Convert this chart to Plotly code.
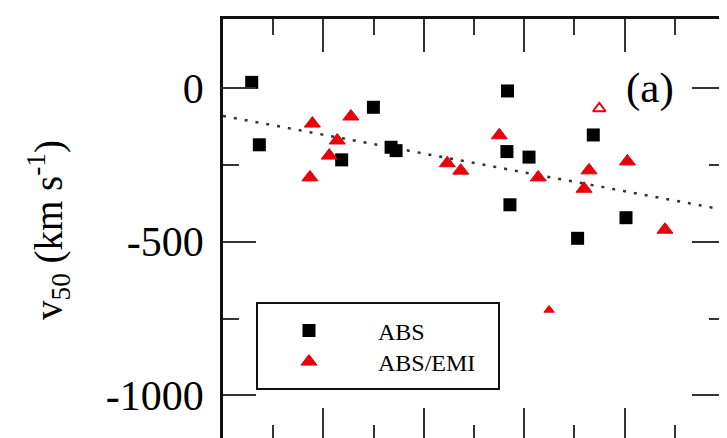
import plotly.graph_objects as go

# ABS (black squares)
abs_x = [9.143, 9.181, 9.749, 9.591, 9.837, 9.862, 10.417, 10.414, 10.429, 10.524, 10.844, 10.766, 11.007]
abs_y = [18, -185, -63, -234, -193, -204, -10, -207, -380, -225, -153, -489, -422]

# ABS/EMI (red triangles)
emi_x = [9.445, 9.637, 9.569, 9.529, 9.433, 10.117, 10.184, 10.376, 10.570, 10.823, 10.798, 11.014, 11.201]
emi_y = [-116, -93, -171, -220, -291, -245, -269, -154, -291, -268, -328, -239, -461]
emi_small_x = [10.624]
emi_small_y = [-722]
emi_open_x = [10.874]
emi_open_y = [-67]

# dotted fit line
fit_x = [9.0, 11.5]
fit_y = [-91, -397]

y_tickvals = [0, -500, -1000]
y_ticktext = ["0", "-500", "-1000"]

SERIF = "Liberation Serif, Times New Roman, serif"
OFF = 8  # default page body margin
W, H = 727 - OFF, 441 - OFF
L, R, T, B = 223 - OFF, 2, 11, 0
RED = "#e8000b"

fig = go.Figure()
fig.add_trace(go.Scatter(x=fit_x, y=fit_y, mode="lines", showlegend=False,
                         line=dict(color="#333333", width=2.5, dash="3px,8px"),
                         hoverinfo="skip"))
fig.add_trace(go.Scatter(x=abs_x, y=abs_y, mode="markers", name="ABS", legend="legend",
                         marker=dict(symbol="square", size=13, color="black")))
fig.add_trace(go.Scatter(x=emi_x, y=emi_y, mode="markers", name="ABS/EMI", legend="legend2",
                         marker=dict(symbol="triangle-up", size=14, color=RED,
                                     line=dict(color=RED, width=1))))
fig.add_trace(go.Scatter(x=emi_small_x, y=emi_small_y, mode="markers", showlegend=False,
                         marker=dict(symbol="triangle-up", size=9, color=RED,
                                     line=dict(color=RED, width=1))))
fig.add_trace(go.Scatter(x=emi_open_x, y=emi_open_y, mode="markers", showlegend=False,
                         marker=dict(symbol="triangle-up-open", size=11, color=RED,
                                     line=dict(color=RED, width=2))))

pw = W - L - R
ph = H - T - B
def px2paper_x(px):  # px in page coordinates
    return (px - OFF - L) / pw
def px2paper_y(py):
    return (H - B - (py - OFF)) / ph

leg_common = dict(xanchor="left", yanchor="middle", bgcolor="rgba(0,0,0,0)", borderwidth=0,
                  font=dict(family=SERIF, size=24, color="black"), itemwidth=128)

fig.update_layout(
    width=W, height=H,
    margin=dict(l=L, r=R, t=T, b=B),
    paper_bgcolor="white", plot_bgcolor="white",
    font=dict(family=SERIF, color="black"),
    showlegend=True,
    legend=dict(x=px2paper_x(240), y=px2paper_y(331), **leg_common),
    legend2=dict(x=px2paper_x(240), y=px2paper_y(362), **leg_common),
    xaxis=dict(range=[9.0, 11.5], showgrid=False, zeroline=False,
               showline=True, linewidth=2.5, linecolor="#111111", mirror="ticks",
               ticks="inside", ticklen=33, tickwidth=2, tickcolor="#333333",
               tick0=9.0, dtick=0.5, showticklabels=False,
               minor=dict(ticks="inside", ticklen=16, tickwidth=2, tickcolor="#333333",
                          tick0=9.0, dtick=0.25, showgrid=False)),
    yaxis=dict(range=[-1148, 224], showgrid=False, zeroline=False,
               showline=True, linewidth=2.5, linecolor="#111111", mirror="ticks",
               ticks="inside", ticklen=33, tickwidth=2, tickcolor="#333333",
               tickvals=y_tickvals, ticktext=y_ticktext, ticklabelstandoff=8,
               tickfont=dict(family=SERIF, size=42, color="black"),
               minor=dict(ticks="inside", ticklen=16, tickwidth=2, tickcolor="#333333",
                          tick0=0, dtick=250, showgrid=False),
               title=dict(text="v<sub>50</sub> (km s<sup>-1</sup>)",
                          font=dict(family=SERIF, size=39, color="black"),
                          standoff=32)),
    shapes=[
        dict(type="rect", xref="paper", yref="paper",
             x0=px2paper_x(257), x1=px2paper_x(499), y0=px2paper_y(389), y1=px2paper_y(303),
             line=dict(color="#111111", width=2)),
    ],
    annotations=[
        dict(text="(a)", xref="paper", yref="paper", x=px2paper_x(650), y=px2paper_y(88),
             xanchor="center", yanchor="middle", showarrow=False,
             font=dict(family=SERIF, size=43, color="black")),
    ],
)

fig.write_html("out.html", config={"displayModeBar": False})
